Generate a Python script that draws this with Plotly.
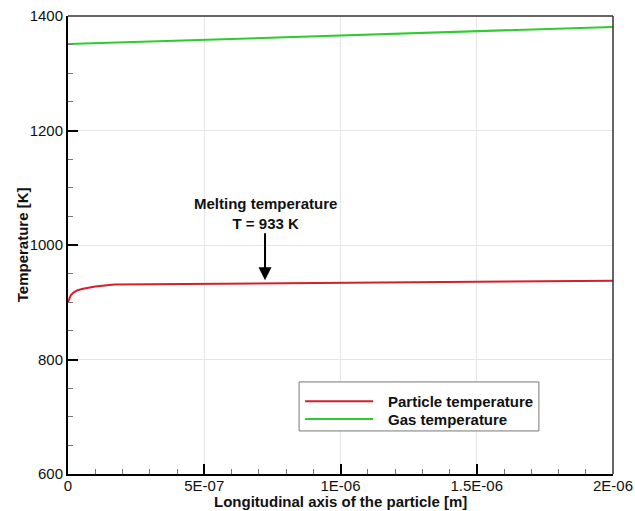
import plotly.graph_objects as go

# Position along the particle axis [m] and temperatures [K]
x_particle = [0, 0.5e-8, 1e-8, 2e-8, 3.5e-8, 5.5e-8, 1e-7, 1.7e-7, 5e-7, 1e-6, 1.5e-6, 2e-6]
t_particle = [900, 907, 912, 917, 921, 923.5, 927.5, 931, 932.5, 934.5, 936, 937.5]

x_gas = [0, 5e-7, 1e-6, 1.5e-6, 2e-6]
t_gas = [1351, 1358.5, 1366, 1373.5, 1381]

x_tickvals = [0, 5e-7, 1e-6, 1.5e-6, 2e-6]
x_ticktext = ["0", "5E-07", "1E-06", "1.5E-06", "2E-06"]
y_tickvals = [600, 800, 1000, 1200, 1400]

melt_x = 7.23e-7
melt_t = 933

series_names = ["Particle temperature", "Gas temperature"]
series_colors = ["#d61f2b", "#2ecc2e"]

FONT = "Liberation Sans, Arial, sans-serif"
TEXT = "#111"

fig = go.Figure()
fig.add_trace(go.Scatter(x=x_particle, y=t_particle, mode="lines", name=series_names[0],
                         line=dict(color=series_colors[0], width=2), showlegend=False))
fig.add_trace(go.Scatter(x=x_gas, y=t_gas, mode="lines", name=series_names[1],
                         line=dict(color=series_colors[1], width=2), showlegend=False))

axis_common = dict(
    showline=True, linecolor="black", linewidth=2, mirror=False, automargin=False,
    ticks="inside", ticklen=10, tickwidth=2, tickcolor="black",
    showgrid=True, gridcolor="#e6e6e6", gridwidth=1, zeroline=False,
    tickfont=dict(family=FONT, size=15, color=TEXT),
)

fig.update_xaxes(
    range=[0, 2e-6], tickvals=x_tickvals, ticktext=x_ticktext, ticklabelstandoff=-3,
    minor=dict(ticks="inside", ticklen=5, tickwidth=1, tickcolor="#777", dtick=1e-7, showgrid=False),
    **axis_common,
)
fig.update_yaxes(
    range=[600, 1400], tickvals=y_tickvals,
    minor=dict(ticks="inside", ticklen=5, tickwidth=1, tickcolor="#777", dtick=50, showgrid=False),
    **axis_common,
)

# Top and right frame
shapes = [
    dict(type="line", xref="paper", yref="paper", x0=0, x1=1, y0=1, y1=1,
         line=dict(color="#333", width=1.5)),
    dict(type="line", xref="paper", yref="paper", x0=1, x1=1, y0=0, y1=1,
         line=dict(color="#333", width=1.5)),
]

annotations = [
    # Axis titles
    dict(xref="paper", yref="paper", x=0.5, y=-0.06, xanchor="center", yanchor="middle",
         text="<b>Longitudinal axis of the particle [m]</b>", showarrow=False,
         font=dict(family=FONT, size=15, color=TEXT)),
    dict(xref="paper", yref="paper", x=-0.084, y=0.5, xanchor="center", yanchor="middle",
         text="<b>Temperature [K]</b>", showarrow=False, textangle=-90,
         font=dict(family=FONT, size=15, color=TEXT)),
]

# Legend box drawn with shapes and text
legend_box = dict(x0=0.424, x1=0.864, y0=0.094, y1=0.201)
legend_rows_y = [0.159, 0.120]
shapes.append(dict(type="rect", xref="paper", yref="paper", **legend_box,
                   line=dict(color="#777", width=1), fillcolor="white"))
for name, color, ry in zip(series_names, series_colors, legend_rows_y):
    shapes.append(dict(type="line", xref="paper", yref="paper", x0=0.435, x1=0.560, y0=ry, y1=ry,
                       line=dict(color=color, width=2)))
    annotations.append(dict(xref="paper", yref="paper", x=0.583, y=ry, xanchor="left", yanchor="middle",
                            text=f"<b>{name}</b>", showarrow=False,
                            font=dict(family=FONT, size=15, color=TEXT)))

# Melting temperature marker
annotations.append(dict(x=melt_x, y=1055, xref="x", yref="y", showarrow=False,
                        text="<b>Melting temperature<br>T = 933 K</b>",
                        font=dict(family=FONT, size=15, color=TEXT), align="center"))
annotations.append(dict(x=melt_x, y=melt_t, xref="x", yref="y", ax=melt_x, ay=1023,
                        axref="x", ayref="y", text="", showarrow=True,
                        arrowhead=2, arrowsize=1.3, arrowwidth=2, arrowcolor="black", standoff=3))

fig.update_layout(
    width=635, height=511,
    margin=dict(l=68, r=22, t=16, b=37),
    plot_bgcolor="white", paper_bgcolor="white",
    shapes=shapes, annotations=annotations,
    font=dict(family=FONT),
)

fig.write_html("out.html")
